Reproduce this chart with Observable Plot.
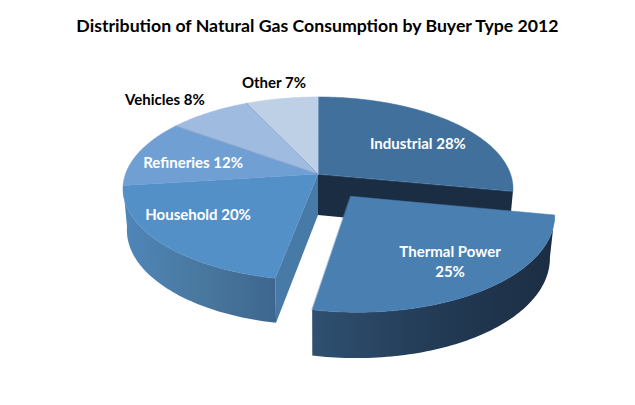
<!DOCTYPE html>
<html><head><meta charset="utf-8">
<script src="https://cdn.jsdelivr.net/npm/d3@7"></script>
<script src="https://cdn.jsdelivr.net/npm/@observablehq/plot@0.6"></script>
<style>
html,body{margin:0;padding:0;background:#fff}
#title{height:50px;box-sizing:border-box;padding-top:15px;text-align:center;font:bold 17.7px Lato,sans-serif;color:#000;width:635px;line-height:22px}
svg{display:block}
</style></head><body>
<div id="title">Distribution of Natural Gas Consumption by Buyer Type 2012</div>
<div id="chart"></div>
<script>
const categories = ["Industrial","Thermal Power","Household","Refineries","Vehicles","Other"];
const shares = [28,25,20,12,8,7];
const topColors = ["#41709c","#4a7fb2","#5490c8","#709fd4","#9fbbe0","#bdd0e6"];
// label anchors in pie-plane units (layout only)
const labelX = [0.519,0.686,-0.623,-0.649,-0.795,-0.229];
const labelY = [-0.336,0.984,0.459,-0.123,-0.828,-1.018];
const labelFill = ["#fff","#fff","#fff","#fff","#000","#000"];

const W=635,H=355,T=50,CX=317.5,CY=173.5,RX=192.5,RY=89.4,K=0.16,DEPTH=41/RY,NARROW=0.02,EXPLODE=0.29;
const total=d3.sum(shares);
const cum=d3.cumsum(shares);
const ang=i=>[(i?cum[i-1]:0)/total*2*Math.PI,cum[i]/total*2*Math.PI];
function proj(s,v,z=0){const d=1-K*v;return {x:s*(1-NARROW*z)/d,y:v/d+z*DEPTH/Math.sqrt(d)};}
function pt(a,r,o,z){return proj(r*Math.sin(a)+o.s,-r*Math.cos(a)+o.v,z);}
function offset(i,e){const[a,b]=ang(i),m=(a+b)/2;return{s:e*Math.sin(m),v:-e*Math.cos(m)};}
function arc(a,b,o,z){const n=Math.max(2,Math.ceil(Math.abs(b-a)/0.02));return d3.range(n+1).map(k=>pt(a+(b-a)*k/n,1,o,z));}
const none={s:0,v:0};
const explode=i=>i===1?offset(1,EXPLODE):none;
function topFace(i){const[a,b]=ang(i),o=explode(i);return [pt(0,0,o,0),...arc(a,b,o,0)];}
function outerWall(a,b,o){return [...arc(a,b,o,0),...arc(a,b,o,1).reverse()];}
function cutWall(a,o){return [pt(0,0,o,0),pt(a,1,o,0),pt(a,1,o,1),pt(0,0,o,1)];}
const poly=(pts,fill,stroke)=>Plot.line(pts,{x:"x",y:"y",fill,stroke:stroke||"none",strokeWidth:0.5,curve:"linear-closed"});
const grad=(id,c0,c1,c2)=>()=>{const g=d3.create("svg:linearGradient").attr("id",id);
  [[0,c0],[0.5,c1],[1,c2]].forEach(([o,c])=>g.append("stop").attr("offset",o).attr("stop-color",c));
  const d=d3.create("svg:defs");d.node().append(g.node());return d.node();};

const a1=ang(0)[1], a2=ang(1)[1], a3=ang(2)[1];
const tO=explode(1);
const labels=categories.map((c,i)=>({text:c==="Thermal Power"?`${c}\n${shares[i]}%`:`${c} ${shares[i]}%`,x:labelX[i],y:labelY[i],fill:labelFill[i]}));

const plot=Plot.plot({
  width:W,height:H,margin:0,
  x:{domain:[-CX/RX,(W-CX)/RX],range:[0,W],axis:null},
  y:{domain:[(T-CY)/RY,(T+H-CY)/RY],range:[0,H],axis:null},
  marks:[
    grad("gHouse","#4f86b9","#49789f","#3e668f"),
    grad("gThermal","#2f5070","#233b56","#1b2d42"),
    poly(cutWall(a1,none),"#1b2d42"),
    poly(cutWall(a2,none),"#487aa8"),
    poly(outerWall(a2,a3,none),"url(#gHouse)"),
    poly(topFace(0),topColors[0],topColors[0]),
    poly(topFace(2),topColors[2],topColors[2]),
    poly(topFace(3),topColors[3],topColors[3]),
    poly(topFace(4),topColors[4],topColors[4]),
    poly(topFace(5),topColors[5],topColors[5]),
    Plot.line([pt(0,0,none,0),pt(ang(4)[0],1,none,0)],{x:"x",y:"y",stroke:"#7896bf",strokeWidth:0.6}),
    Plot.line([pt(0,0,none,0),pt(ang(5)[0],1,none,0)],{x:"x",y:"y",stroke:"#7896bf",strokeWidth:0.7}),
    poly(outerWall(a1,a2,tO),"url(#gThermal)"),
    poly(topFace(1),topColors[1],topColors[1]),
    Plot.text(labels,{x:"x",y:"y",text:"text",fill:"fill",dy:-1.5,fontSize:15,fontWeight:"bold",fontFamily:"Lato, sans-serif",lineHeight:1.35,textAnchor:"middle"})
  ]
});
document.getElementById("chart").append(plot);
</script>
</body></html>
